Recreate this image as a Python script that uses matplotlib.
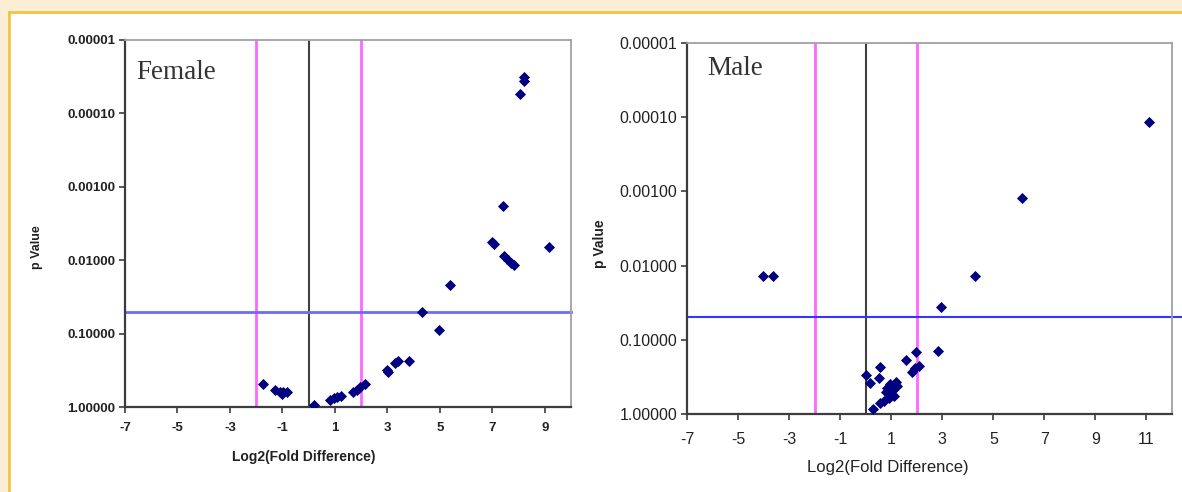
import matplotlib.pyplot as plt
from matplotlib.patches import Rectangle
from matplotlib.ticker import FixedLocator, FuncFormatter, NullLocator

# data
female_x = [-1.74, -1.29, -1.10, -0.97, -0.84, -1.03, 0.20, 0.81, 0.96, 1.09,
            1.22, 1.70, 1.83, 1.95, 2.15, 2.97, 3.03, 3.29, 3.42, 3.82,
            4.31, 4.98, 5.39, 7.00, 7.07, 7.39, 7.46, 7.59, 7.70, 7.84,
            8.06, 8.21, 8.21, 9.17]
female_p = [0.486, 0.59, 0.63, 0.62, 0.63, 0.67, 0.95, 0.81, 0.75, 0.73,
            0.70, 0.62, 0.59, 0.53, 0.49, 0.31, 0.33, 0.25, 0.235, 0.235,
            0.050, 0.088, 0.0215, 0.0056, 0.0060, 0.0018, 0.0088, 0.0100, 0.0110, 0.0118,
            5.5e-5, 3.2e-5, 3.6e-5, 0.0067]

male_x = [-4.01, -3.62, 11.10, 6.11, 4.27, 2.96, 2.84, 1.97, 1.57, 2.08,
          1.95, 1.82, 0.58, 0.00, 0.16, 0.51, 0.97, 1.17, 1.24, 0.84,
          1.04, 1.10, 0.91, 0.71, 0.58, 0.29, 0.78]
male_p = [0.0136, 0.0140, 1.16e-4, 0.00124, 0.0140, 0.0356, 0.143, 0.144, 0.187, 0.223,
          0.240, 0.274, 0.235, 0.300, 0.386, 0.330, 0.390, 0.374, 0.415, 0.440,
          0.484, 0.566, 0.600, 0.660, 0.720, 0.857, 0.510]

y_ticks = [1e-5, 1e-4, 1e-3, 1e-2, 1e-1, 1.0]
fold_cut = 2
p_cut = 0.05

plt.rcParams['font.family'] = ['Liberation Sans', 'DejaVu Sans']

W, H = 1182, 492
fig = plt.figure(figsize=(W / 100, H / 100), dpi=100, facecolor='#fcefd6')
fig.patches.append(Rectangle((9 / W, -0.05), 1.2, 1 - 12 / H + 0.05,
                             transform=fig.transFigure, facecolor='white',
                             edgecolor='#f6c244', lw=2, zorder=-10))


def volcano(rect, xs, ps, xlim, xticks, name, tick_fs, xlab_fs, ylab_fs, weight,
            blue, blue_lw, xpad, xlabel_pos, ylabel_pos, name_pos, line_extra=0):
    ax = fig.add_axes(rect)
    ax.set_facecolor('white')
    ax.set_yscale('log')
    ax.set_xlim(*xlim)
    ax.set_ylim(1.0, 1e-5)
    ax.yaxis.set_major_locator(FixedLocator(y_ticks))
    ax.yaxis.set_minor_locator(NullLocator())
    ax.yaxis.set_major_formatter(FuncFormatter(lambda v, pos: '%.5f' % v))
    ax.set_xticks(xticks)
    ax.set_xticklabels([str(t) for t in xticks])

    for s in ['left', 'bottom']:
        ax.spines[s].set_color('#3c3c3c')
        ax.spines[s].set_linewidth(1.6)
    for s in ['top', 'right']:
        ax.spines[s].set_color('#a0a0a0')
        ax.spines[s].set_linewidth(1.3)
    ax.tick_params(axis='both', direction='out', length=4, width=1.2,
                   color='#3c3c3c', labelsize=tick_fs, labelcolor='#222222', pad=3)
    ax.tick_params(axis='x', pad=xpad)
    for lab in ax.get_xticklabels() + ax.get_yticklabels():
        lab.set_fontweight(weight)

    ax.axvline(-fold_cut, color='#ff66ff', lw=2, zorder=1)
    ax.axvline(fold_cut, color='#ff66ff', lw=2, zorder=1)
    ax.axvline(0, color='#404040', lw=1.5, zorder=1)
    ax.plot([xlim[0], xlim[1] + line_extra], [p_cut, p_cut], color=blue, lw=blue_lw,
            zorder=1, clip_on=False)

    ax.scatter(xs, ps, marker='D', s=32, color='#000080', zorder=3, linewidths=0)

    ax.set_xlabel('Log2(Fold Difference)', fontsize=xlab_fs, fontweight=weight,
                  color='#222222')
    ax.set_ylabel('p Value', fontsize=ylab_fs, fontweight='bold', color='#222222')
    ax.xaxis.set_label_coords(*xlabel_pos)
    ax.yaxis.set_label_coords(*ylabel_pos)
    ax.text(name_pos[0], name_pos[1], name, transform=ax.transAxes,
            family='Liberation Serif', fontsize=19.5, color='#333333', va='center')
    return ax


volcano([125 / W, 1 - 407 / H, 446 / W, 367 / H], female_x, female_p,
        (-7, 10), list(range(-7, 10, 2)), 'Female', 9.5, 10, 9, 'bold',
        '#6b6bff', 2.0, 6.5, (0.40, -0.118), (-0.184, 0.435), (0.026, 0.912))

volcano([687 / W, 1 - 414 / H, 485 / W, 371 / H], male_x, male_p,
        (-7, 12), list(range(-7, 12, 2)), 'Male', 11.5, 12, 10, 'normal',
        '#3535ff', 1.5, 9, (0.415, -0.125), (-0.165, 0.46), (0.041, 0.93), line_extra=0.35)

fig.savefig('out.png', dpi=100, facecolor=fig.get_facecolor())
